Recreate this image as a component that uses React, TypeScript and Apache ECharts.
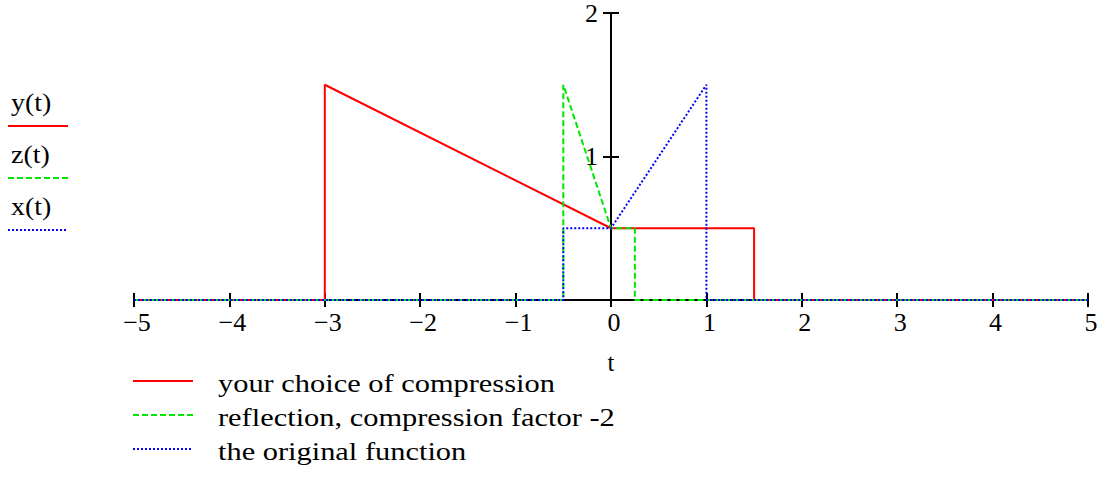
import React, { useEffect, useRef } from "react";
import * as echarts from "echarts";

// Piecewise-linear functions of t, given as [t, value] vertices
const xOriginal: [number, number][] = [
  [-5, 0], [-0.5, 0], [-0.5, 0.5], [0, 0.5], [1, 1.5], [1, 0], [5, 0],
];
const zReflected: [number, number][] = [
  [-5, 0], [-0.5, 0], [-0.5, 1.5], [0, 0.5], [0.25, 0.5], [0.25, 0], [5, 0],
];
const yCompressed: [number, number][] = [
  [-5, 0], [-3, 0], [-3, 1.5], [0, 0.5], [1.5, 0.5], [1.5, 0], [5, 0],
];

const seriesNames = [
  "your choice of compression",
  "reflection, compression factor -2",
  "the original function",
];
const shortNames = ["y(t)", "z(t)", "x(t)"];
const colors = ["#ff0000", "#00e600", "#0000ff"];
const dashes: (number[] | "solid")[] = ["solid", [6, 3], [2, 2]];

const FONT = "'Liberation Serif', 'Times New Roman', serif";
const STRETCH = 1.17;

export default function App() {
  const ref = useRef<HTMLDivElement>(null);

  useEffect(() => {
    document.body.style.margin = "0";
    if (!ref.current) return;
    const chart = echarts.init(ref.current, undefined, { renderer: "svg" });

    const W = 1103;
    const gridLeft = 134;
    const gridRight = 15;
    const tMin = -5;
    const tMax = 5;
    // shift the value axis from the grid's left edge to t = 0
    const zeroOffset = -((0 - tMin) / (tMax - tMin)) * (W - gridLeft - gridRight);

    const tickLabel = (v: number) => (v < 0 ? "\u2212" + Math.abs(v) : String(v));

    const baseX = {
      type: "value" as const,
      min: tMin,
      max: tMax,
      interval: 1,
      position: "bottom" as const,
      splitLine: { show: false },
      axisLine: { onZero: false, lineStyle: { color: "#000", width: 2 } },
    };
    const baseY = {
      type: "value" as const,
      min: 0,
      max: 2,
      interval: 1,
      position: "left" as const,
      offset: zeroOffset,
      splitLine: { show: false },
      axisLine: { onZero: false, lineStyle: { color: "#000", width: 2 } },
    };

    const data = [yCompressed, zReflected, xOriginal];
    const lineDash = (i: number) => (dashes[i] === "solid" ? null : (dashes[i] as number[]));

    const keys: any[] = [];
    // function names with their line samples, on the left
    shortNames.forEach((n, i) => {
      const textY = 103 + i * 52;
      keys.push({
        type: "text",
        x: 11,
        y: textY,
        scaleX: 1.12,
        style: {
          text: n,
          fontSize: 25,
          fontFamily: FONT,
          fill: "#000",
          verticalAlign: "middle",
        },
      });
      keys.push({
        type: "line",
        shape: { x1: 8, y1: textY + 23, x2: 68, y2: textY + 23 },
        style: { stroke: colors[i], lineWidth: 2, lineDash: lineDash(i) },
      });
    });
    // descriptions under the plot
    seriesNames.forEach((n, i) => {
      const rowY = 381 + i * 34;
      keys.push({
        type: "line",
        shape: { x1: 133, y1: rowY, x2: 193, y2: rowY },
        style: { stroke: colors[i], lineWidth: 2, lineDash: lineDash(i) },
      });
      keys.push({
        type: "text",
        x: 218,
        y: rowY + 2,
        scaleX: STRETCH,
        style: {
          text: n,
          fontSize: 26,
          fontFamily: FONT,
          fill: "#000",
          verticalAlign: "middle",
        },
      });
    });

    chart.setOption({
      animation: false,
      backgroundColor: "#fff",
      grid: { left: gridLeft, right: gridRight, top: 12, bottom: 177, containLabel: false },
      xAxis: [
        {
          ...baseX,
          axisTick: { show: true, length: 7, lineStyle: { color: "#000", width: 2 } },
          axisLabel: {
            formatter: tickLabel,
            fontSize: 26,
            fontFamily: FONT,
            color: "#000",
            margin: 9,
            padding: [0, 0, 0, 6],
          },
          name: "t",
          nameLocation: "middle",
          nameGap: 50,
          nameTextStyle: { fontSize: 25, fontFamily: FONT, color: "#000" },
        },
        {
          ...baseX,
          axisTick: { show: true, inside: true, length: 7, lineStyle: { color: "#000", width: 2 } },
          axisLabel: { show: false },
        },
      ],
      yAxis: [
        {
          ...baseY,
          axisTick: { show: true, length: 8, lineStyle: { color: "#000", width: 2 } },
          axisLabel: {
            formatter: (v: number) => (v === 0 ? "" : String(v)),
            fontSize: 26,
            fontFamily: FONT,
            color: "#000",
            margin: 13,
          },
        },
        {
          ...baseY,
          axisTick: { show: true, inside: true, length: 8, lineStyle: { color: "#000", width: 2 } },
          axisLabel: { show: false },
        },
      ],
      graphic: keys,
      series: seriesNames.map((name, i) => ({
        name,
        type: "line",
        data: data[i],
        symbol: "none",
        xAxisIndex: 0,
        yAxisIndex: 0,
        color: colors[i],
        lineStyle: { color: colors[i], width: 2, type: dashes[i] },
        z: 3 + i,
      })),
    });

    return () => chart.dispose();
  }, []);

  return <div ref={ref} style={{ width: 1103, height: 477 }} />;
}
